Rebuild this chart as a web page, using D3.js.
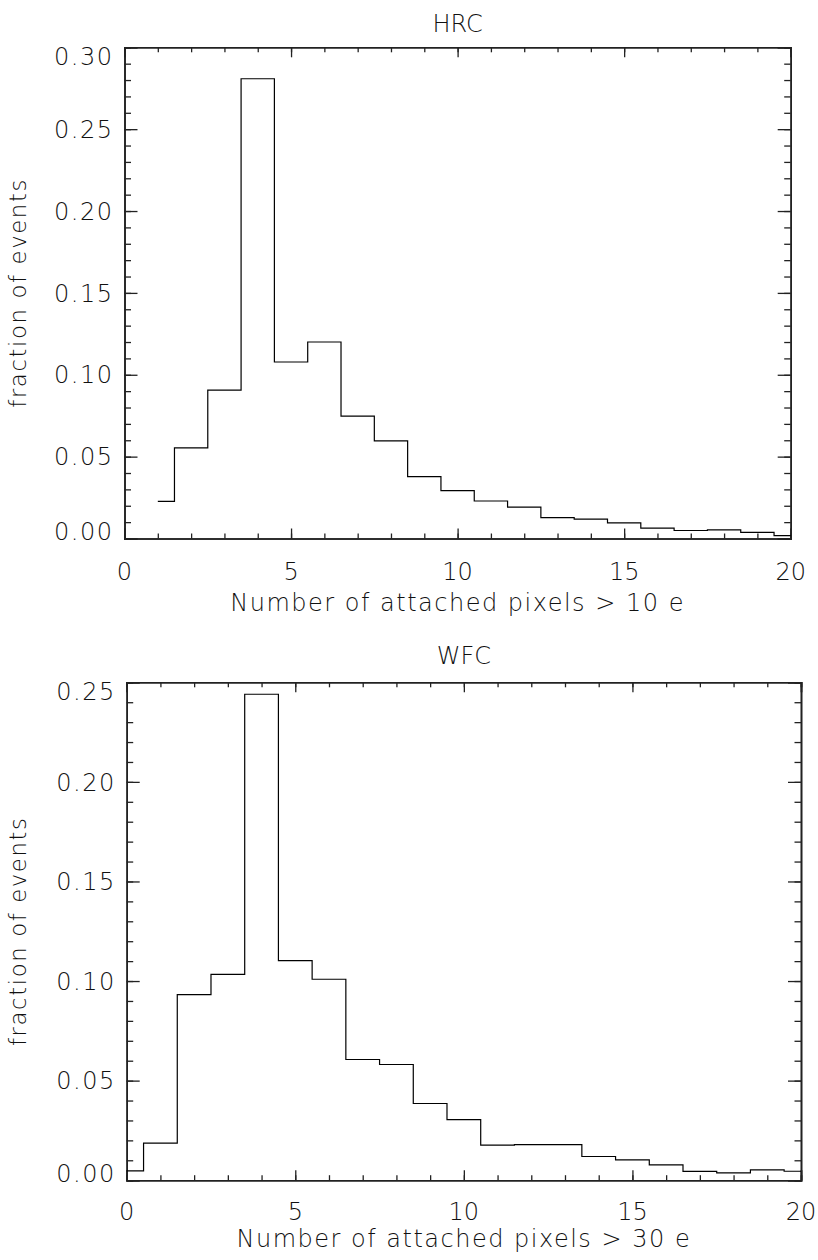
<!DOCTYPE html>
<html>
<head>
<meta charset="utf-8">
<script src="https://cdn.jsdelivr.net/npm/d3@7"></script>
<style>
  html, body { margin: 0; padding: 0; background: #fff; }
  svg { display: block; }
  text { font-family: "DejaVu Sans", sans-serif; font-weight: 200; fill: #111; }
</style>
</head>
<body>
<svg id="chart" width="818" height="1260"></svg>
<script>
// ---------- data ----------
const hrcTitle = "HRC";
const hrcXLabel = "Number of attached pixels > 10 e";
const hrcPixels = [1,2,3,4,5,6,7,8,9,10,11,12,13,14,15,16,17,18,19,20];
const hrcFraction = [0.0227,0.0553,0.0906,0.2808,0.1078,0.1200,0.0747,0.0596,0.0378,0.0292,
                     0.0229,0.0192,0.0127,0.0118,0.0096,0.0063,0.0049,0.0053,0.0037,0.0018];
const hrcYTicks = [0.00,0.05,0.10,0.15,0.20,0.25,0.30];

const wfcTitle = "WFC";
const wfcXLabel = "Number of attached pixels > 30 e";
const wfcPixels = [0,1,2,3,4,5,6,7,8,9,10,11,12,13,14,15,16,17,18,19,20];
const wfcFraction = [0.0047,0.0186,0.0932,0.1033,0.2440,0.1103,0.1009,0.0606,0.0581,0.0385,
                     0.0304,0.0176,0.0179,0.0179,0.0119,0.0102,0.0077,0.0044,0.0037,0.0052,0.0045];
const wfcYTicks = [0.00,0.05,0.10,0.15,0.20,0.25];

const xTicks = [0,5,10,15,20];
const yLabel = "fraction of events";

// ---------- layout ----------
const panels = [
  { title: hrcTitle, xLabel: hrcXLabel, xs: hrcPixels, ys: hrcFraction, yTicks: hrcYTicks,
    yMax: 0.30, left: 124.5, right: 790.7, top: 47.3, bottom: 538.5,
    titleY: 32, tickBase: 580, xLabelY: 611 },
  { title: wfcTitle, xLabel: wfcXLabel, xs: wfcPixels, ys: wfcFraction, yTicks: wfcYTicks,
    yMax: 0.25, left: 126.7, right: 801, top: 682.3, bottom: 1180.2,
    titleY: 664, tickBase: 1220, xLabelY: 1247 }
];

const svg = d3.select("#chart");
const FS = 24;
const axisColor = "#222";

panels.forEach(p => {
  const x = d3.scaleLinear().domain([0, 20]).range([p.left, p.right]);
  const y = d3.scaleLinear().domain([0, p.yMax]).range([p.bottom, p.top]);
  const g = svg.append("g");

  const minorX = d3.range(0, 21, 1);
  const minorY = d3.range(0, Math.round(p.yMax * 100) + 1).map(d => d / 100);

  const ax = [
    { gen: d3.axisBottom(x).tickValues(minorX).tickSize(-5), tr: `translate(0,${p.bottom})` },
    { gen: d3.axisTop(x).tickValues(minorX).tickSize(-5), tr: `translate(0,${p.top})` },
    { gen: d3.axisLeft(y).tickValues(minorY).tickSize(-6.5), tr: `translate(${p.left},0)` },
    { gen: d3.axisRight(y).tickValues(minorY).tickSize(-6.5), tr: `translate(${p.right},0)` },
    { gen: d3.axisBottom(x).tickValues(xTicks).tickSize(-10), tr: `translate(0,${p.bottom})` },
    { gen: d3.axisTop(x).tickValues(xTicks).tickSize(-10), tr: `translate(0,${p.top})` },
    { gen: d3.axisLeft(y).tickValues(p.yTicks).tickSize(-13), tr: `translate(${p.left},0)` },
    { gen: d3.axisRight(y).tickValues(p.yTicks).tickSize(-13), tr: `translate(${p.right},0)` }
  ];
  ax.forEach(a => {
    const ag = g.append("g").attr("transform", a.tr).call(a.gen.tickFormat(""));
    ag.selectAll("text").remove();
    ag.select(".domain").attr("stroke", axisColor).attr("stroke-width", 1.6);
    ag.selectAll(".tick line").attr("stroke", axisColor).attr("stroke-width", 1.3);
  });

  // x tick labels
  g.selectAll("text.xt").data(xTicks).join("text")
    .attr("class", "xt")
    .attr("x", d => x(d)).attr("y", p.tickBase)
    .attr("text-anchor", "middle")
    .attr("font-size", FS)
    .text(d => d3.format("d")(d));

  // y tick labels
  const nY = p.yTicks.length;
  g.selectAll("text.yt").data(p.yTicks).join("text")
    .attr("class", "yt")
    .attr("x", p.left - 11)
    .attr("y", (d, i) => y(d) + FS * 0.36 + (i === 0 ? -7 : (i === nY - 1 ? 9 : 0)))
    .attr("text-anchor", "end")
    .attr("font-size", FS)
    .attr("letter-spacing", 1.5)
    .text(d => d3.format(".2f")(d));

  // title
  g.append("text")
    .attr("x", (p.left + p.right) / 2).attr("y", p.titleY)
    .attr("text-anchor", "middle").attr("font-size", FS)
    .text(p.title);

  // x label
  g.append("text")
    .attr("x", (p.left + p.right) / 2).attr("y", p.xLabelY)
    .attr("text-anchor", "middle").attr("font-size", FS)
    .attr("letter-spacing", 1.5)
    .text(p.xLabel);

  // y label
  g.append("text")
    .attr("transform", `translate(26,${(p.top + p.bottom) / 2}) rotate(-90)`)
    .attr("text-anchor", "middle").attr("font-size", FS * 0.95)
    .attr("letter-spacing", 1.6)
    .text(yLabel);

  // histogram (step at midpoints)
  const line = d3.line()
    .x((d, i) => x(p.xs[i]))
    .y(d => y(d))
    .curve(d3.curveStep);
  g.append("path")
    .attr("d", line(p.ys))
    .attr("fill", "none")
    .attr("stroke", "#000")
    .attr("stroke-width", 1.2);
});
</script>
</body>
</html>
